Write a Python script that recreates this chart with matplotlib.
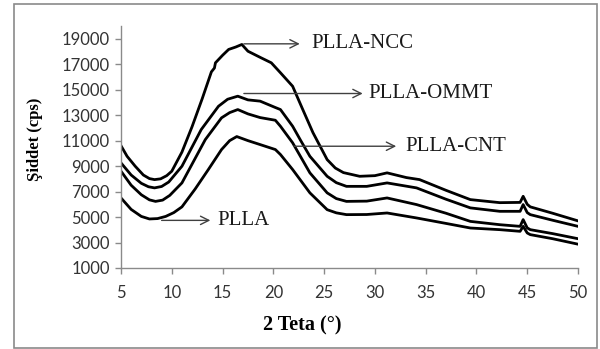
import matplotlib
matplotlib.use("Agg")
import matplotlib.pyplot as plt
from matplotlib.patches import Rectangle

# ---- data ----
ncc_x = [5.0, 5.6, 6.4, 7.2, 7.8, 8.3, 8.9, 9.5, 10.0, 11.0, 12.0, 13.0, 13.9, 14.2, 14.3, 15.0, 15.6, 16.3, 16.9,
         17.5, 18.8, 19.8, 20.7, 21.9, 22.9, 23.9, 25.3, 26.1, 26.9, 28.5, 30.0, 31.2, 33.1, 34.4, 37.0, 39.4,
         42.3, 44.3, 44.6, 45.0, 45.3, 47.5, 50.0]
ncc_y = [10600, 9770, 8990, 8300, 8020, 7940, 8000, 8250, 8600, 10100, 12100, 14300, 16400, 16700, 17110, 17700,
         18160, 18350, 18550, 18020, 17500, 17110, 16330, 15270, 13440, 11630, 9510, 8850, 8490, 8200, 8250, 8470,
         8100, 7940, 7100, 6370, 6130, 6150, 6630, 6000, 5800, 5300, 4700]

ommt_x = [5.0, 6.0, 7.0, 7.7, 8.3, 9.0, 9.7, 11.0, 12.9, 14.6, 15.5, 16.5, 17.5, 18.7, 20.2, 20.7, 21.9, 22.7,
          23.6, 25.3, 26.2, 27.2, 29.2, 31.2, 34.1, 37.0, 39.4, 42.3, 44.3, 44.6, 45.0, 45.3, 47.5, 50.0]
ommt_y = [9250, 8300, 7650, 7380, 7290, 7400, 7750, 8990, 11870, 13700, 14250, 14490, 14200, 14100, 13600,
          13440, 12130, 11000, 9770, 8200, 7700, 7410, 7410, 7680, 7290, 6400, 5720, 5450, 5450, 5980, 5350,
          5190, 4750, 4270]

cnt_x = [5.0, 6.0, 7.0, 7.8, 8.4, 9.1, 9.8, 11.0, 13.3, 14.9, 15.7, 16.5, 17.5, 18.7, 20.2, 20.7, 21.9, 23.6,
         25.3, 26.2, 27.2, 29.2, 31.2, 34.1, 37.0, 39.4, 42.3, 44.3, 44.6, 45.0, 45.3, 47.5, 50.0]
cnt_y = [8600, 7500, 6750, 6350, 6230, 6330, 6700, 7680, 11080, 12790, 13200, 13440, 13100, 12810, 12600,
         12130, 10830, 8470, 6900, 6450, 6230, 6250, 6500, 5980, 5300, 4660, 4400, 4270, 4800, 4150, 4010,
         3700, 3300]

plla_x = [5.0, 6.0, 7.0, 7.8, 8.6, 9.4, 10.2, 11.0, 12.3, 13.6, 14.9, 15.7, 16.4, 17.5, 18.7, 20.2, 20.7,
          21.9, 23.6, 25.3, 26.2, 27.2, 29.2, 31.2, 34.1, 37.0, 39.4, 42.3, 44.3, 44.6, 45.0, 45.3, 47.5, 50.0]
plla_y = [6500, 5600, 5050, 4850, 4880, 5050, 5350, 5800, 7200, 8730, 10300, 11000, 11320, 11000, 10690,
          10300, 9910, 8730, 6900, 5580, 5330, 5190, 5200, 5320, 4930, 4500, 4140, 4010, 3880, 4270, 3750,
          3620, 3300, 2870]

x_ticks = [5, 10, 15, 20, 25, 30, 35, 40, 45, 50]
y_ticks = [1000, 3000, 5000, 7000, 9000, 11000, 13000, 15000, 17000, 19000]

labels = ["PLLA-NCC", "PLLA-OMMT", "PLLA-CNT", "PLLA"]
arrow_start = [(17.1, 18600), (17.1, 14700), (22.0, 10560), (9.0, 4740)]
arrow_end_x = [22.6, 28.8, 32.1, 13.8]
text_x = [23.7, 29.4, 33.0, 14.5]

fig = plt.figure(figsize=(6.0, 3.49), dpi=100)
ax = fig.add_axes([121/600, 1-268/349, (578-121)/600, (268-26)/349])

for xs, ys in [(ncc_x, ncc_y), (ommt_x, ommt_y), (cnt_x, cnt_y), (plla_x, plla_y)]:
    ax.plot(xs, ys, color="black", lw=2.0, solid_joinstyle="round")

ax.set_xlim(5, 50)
ax.set_ylim(1000, 20000)
ax.set_xticks(x_ticks)
ax.set_yticks(y_ticks)
ax.set_xticklabels([str(v) for v in x_ticks])
ax.set_yticklabels([str(v) for v in y_ticks])

for s in ["top", "right"]:
    ax.spines[s].set_visible(False)
for s in ["left", "bottom"]:
    ax.spines[s].set_color("#8a8a8a")
    ax.spines[s].set_linewidth(1.0)
ax.tick_params(axis="both", direction="out", length=4, width=1, color="#8a8a8a",
               labelsize=12, labelcolor="#333333")
ax.tick_params(axis="x", pad=8)
ax.tick_params(axis="y", pad=4)
for t in ax.get_xticklabels() + ax.get_yticklabels():
    t.set_family(["Lato", "DejaVu Sans"])

for lab, (sx, sy), ex, tx in zip(labels, arrow_start, arrow_end_x, text_x):
    ax.annotate("", xy=(ex, sy), xytext=(sx, sy),
                arrowprops=dict(arrowstyle="->", color="#404040", lw=1.0,
                                shrinkA=0, shrinkB=0, mutation_scale=15))
    ax.text(tx, sy, lab, ha="left", va="center", fontsize=15,
            family=["Liberation Serif", "DejaVu Serif"], color="#1a1a1a")

fig.text(35/600, 1-139/349, "Şiddet (cps)", rotation=90, ha="center", va="center",
         fontsize=12, fontweight="bold", family=["Liberation Serif", "DejaVu Serif"])
fig.text(302/600, 1-325/349, "2 Teta (°)", ha="center", va="center",
         fontsize=14.5, fontweight="bold", family=["Liberation Serif", "DejaVu Serif"])

fig.patches.append(Rectangle((14/600, 1.5/349), (597-14)/600, (347-1.5)/349 * 0.995,
                             transform=fig.transFigure, fill=False, edgecolor="#8a8a8a", lw=1.2))

fig.savefig("out.png", dpi=100)
